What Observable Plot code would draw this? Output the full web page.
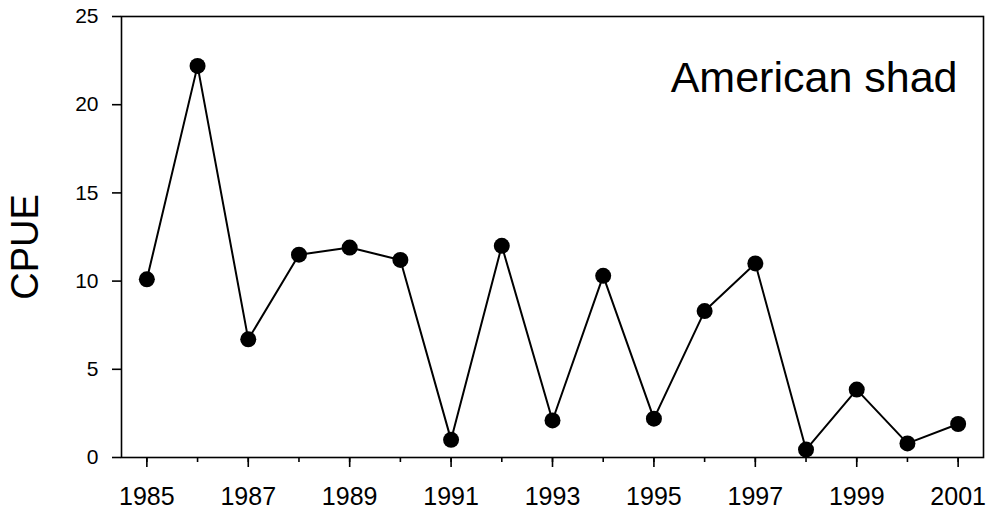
<!DOCTYPE html>
<html>
<head>
<meta charset="utf-8">
<script src="https://cdn.jsdelivr.net/npm/d3@7"></script>
<script src="https://cdn.jsdelivr.net/npm/@observablehq/plot@0.6"></script>
<style>
  html, body { margin: 0; padding: 0; background: #fff; }
  #chart { width: 991px; height: 518px; }
</style>
</head>
<body>
<div id="chart"></div>
<script>
const years = [1985, 1986, 1987, 1988, 1989, 1990, 1991, 1992, 1993, 1994, 1995, 1996, 1997, 1998, 1999, 2000, 2001];
const cpue  = [10.1, 22.2, 6.7, 11.5, 11.9, 11.2, 1.0, 12.0, 2.1, 10.3, 2.2, 8.3, 11.0, 0.45, 3.85, 0.8, 1.9];
const yTicks = [0, 5, 10, 15, 20, 25];
const xLabelYears = [1985, 1987, 1989, 1991, 1993, 1995, 1997, 1999, 2001];
const yLabel = "CPUE";
const title = "American shad";

const data = years.map((y, i) => ({year: y, value: cpue[i]}));

const chart = Plot.plot({
  width: 991,
  height: 518,
  marginLeft: 121,
  marginRight: 8,
  marginTop: 16,
  marginBottom: 61,
  style: {fontFamily: "'Liberation Sans', Arial, sans-serif", background: "#fff", color: "#000"},
  x: {domain: [1984.5, 2001.5]},
  y: {domain: [0, 25]},
  marks: [
    Plot.frame({stroke: "#000", strokeWidth: 1.6}),
    Plot.axisX({ticks: years, tickSize: 5, tickFormat: () => "", label: null, strokeWidth: 1.6}),
    Plot.axisX({ticks: xLabelYears, tickSize: 10, tickPadding: 20, tickFormat: d => String(d), label: null, strokeWidth: 1.6}),
    Plot.axisY({ticks: yTicks, tickSize: 9, tickPadding: 14, label: null, strokeWidth: 1.6}),
    Plot.line(data, {x: "year", y: "value", stroke: "#000", strokeWidth: 2}),
    Plot.dot(data, {x: "year", y: "value", r: 8, fill: "#000", stroke: "none"}),
    Plot.text([yLabel], {text: d => d, frameAnchor: "left", textAnchor: "middle", lineAnchor: "middle", rotate: -90, dx: -96, dy: 10, fontSize: 38}),
    Plot.text([title], {text: d => d, frameAnchor: "top-right", textAnchor: "end", lineAnchor: "top", dx: -26, dy: 45, fontSize: 43})
  ]
});
document.getElementById("chart").appendChild(chart);
d3.select(chart).selectAll('[aria-label="x-axis tick label"]').attr("font-size", 25).style("font-size", "25px");
d3.select(chart).selectAll('[aria-label="y-axis tick label"]').attr("font-size", 21).style("font-size", "21px");
</script>
</body>
</html>
